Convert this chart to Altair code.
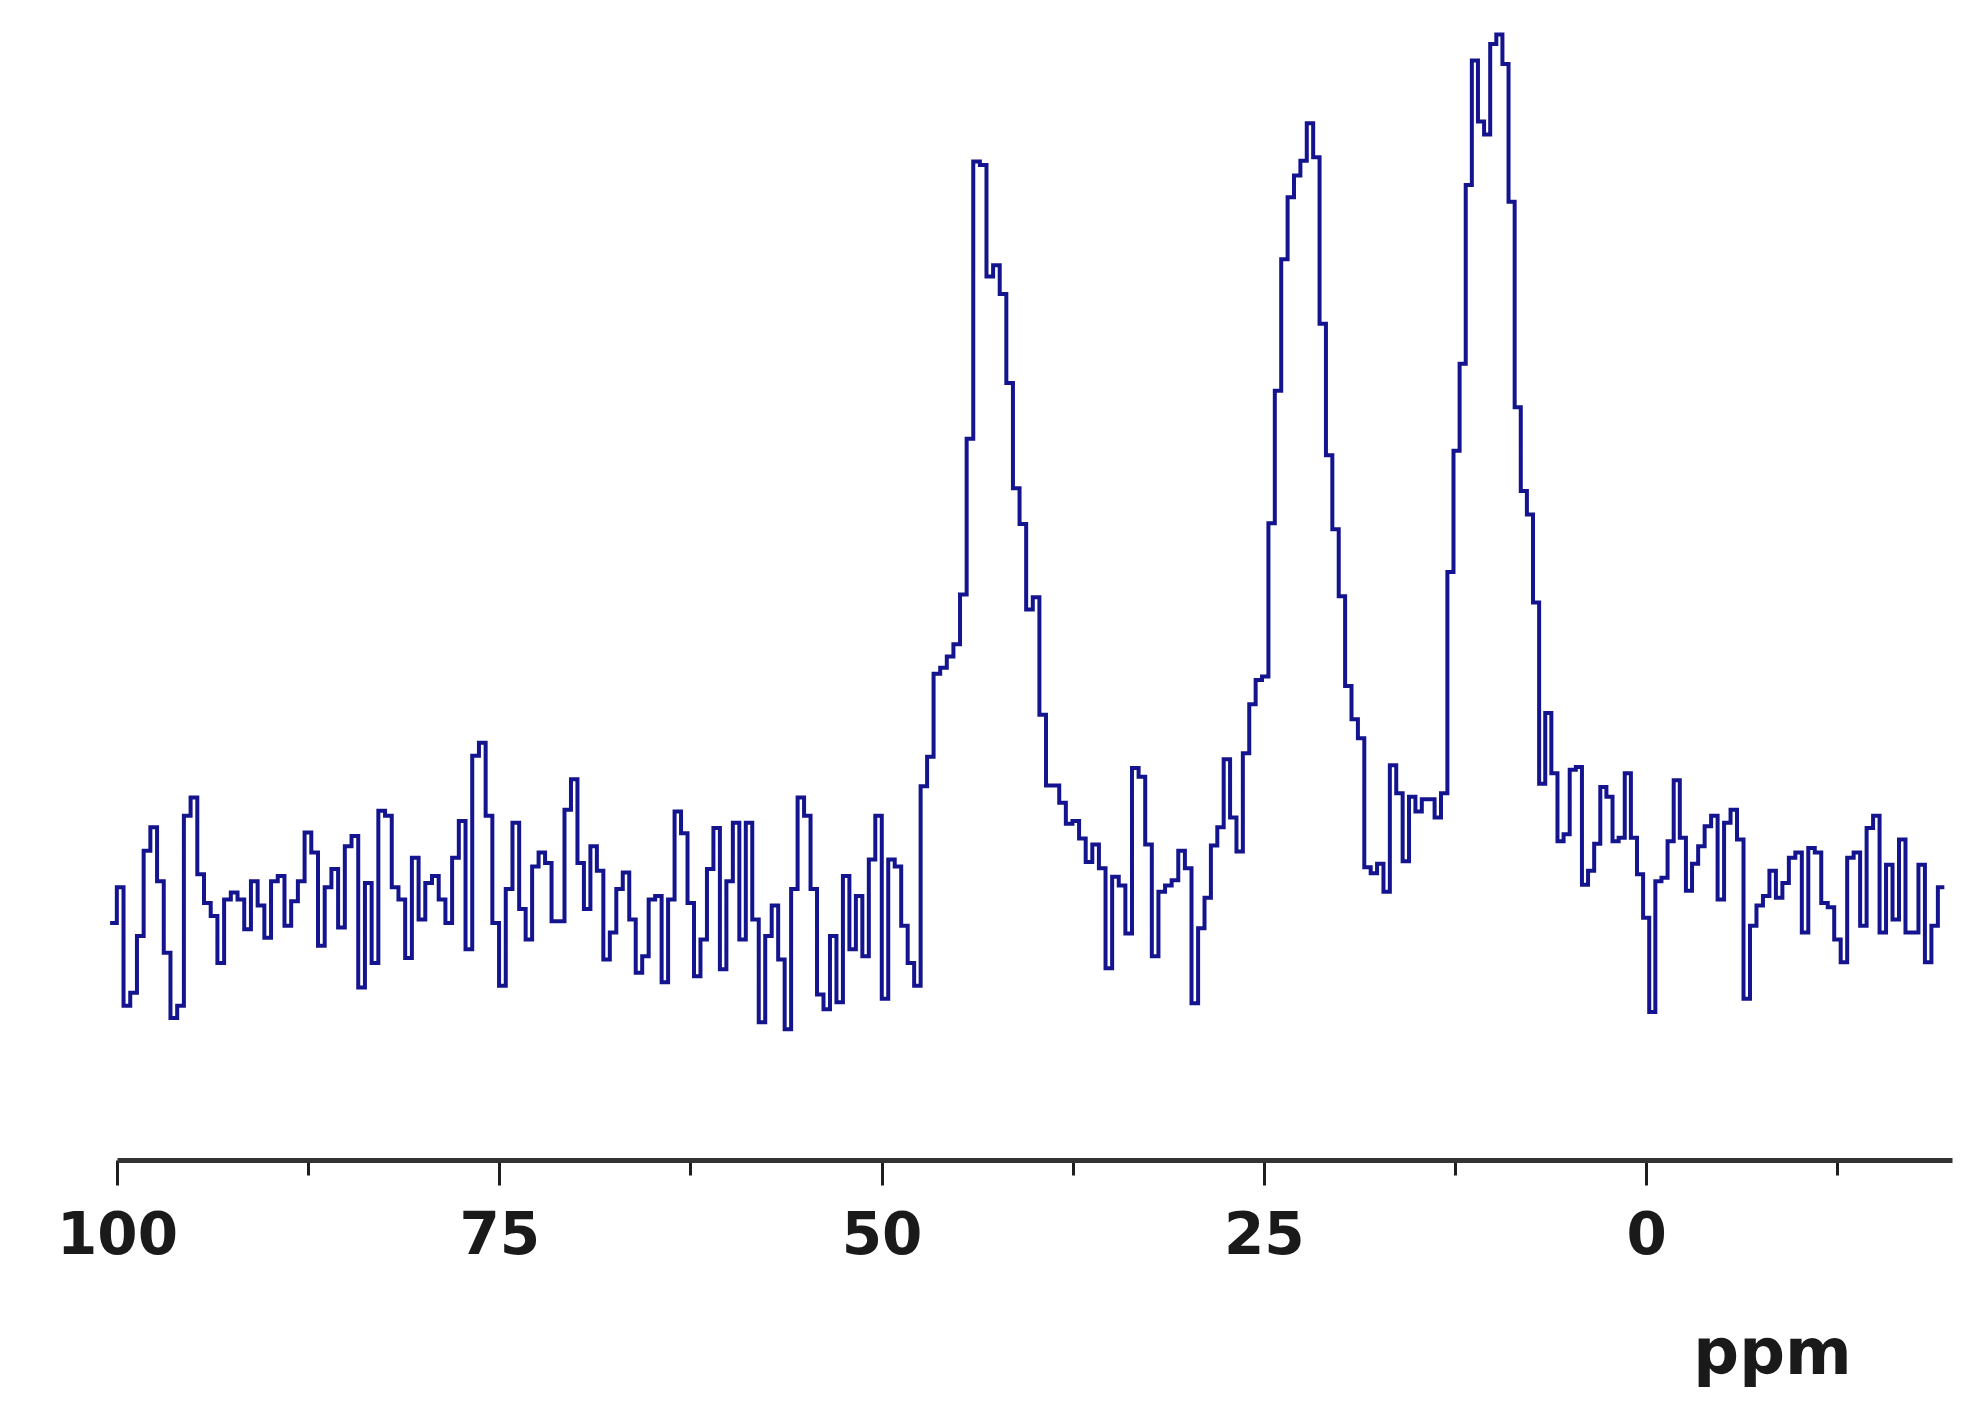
import pandas as pd
import altair as alt

# chemical shift (ppm) at the segment boundaries
seg_edges = [100.45, 73.7, 46.6, 29.3, 13.0, -3.4, -19.5]

# intensities (a.u., baseline = 0, tallest peak = 100), one list per segment
seg_a = [-1.8, 2.3, -11.3, -9.8, -3.3, 6.5, 9.2, 3.0, -5.2, -12.7, -11.3, 10.5, 12.6,
         3.8, 0.5, -1.0, -6.4, 0.9, 1.7, 0.9, -2.5, 3.0, 0.2, -3.5, 3.0, 3.6, -2.1,
         0.7, 3.0, 8.6, 6.3, -4.4, 2.3, 4.4, -2.3, 7.0, 8.2, -9.2, 2.8, -6.4, 11.1,
         10.5, 2.3, 0.9, -5.8, 5.7, -1.4, 2.8, 3.6, 0.9, -1.8, 5.7, 9.9, -4.8, 17.4,
         18.9, 10.5, -1.8, -9.0, 2.1, 9.7]
seg_b = [-0.2, -3.7, 4.7, 6.3, 5.1, -1.6, -1.6, 11.2, 14.7, 5.1, -0.2, 7.0, 4.2,
         -6.0, -2.9, 2.1, 4.0, -1.4, -7.5, -5.6, 0.9, 1.3, -8.6, 0.9, 11.0, 8.5, 0.5,
         -7.9, -3.7, 4.4, 9.1, -7.1, 3.0, 9.7, -3.7, 9.7, -1.4, -13.2, -3.3, 0.2,
         -6.0, -14.0, 2.1, 12.6, 10.5, 2.1, -10.0, -11.7, -3.3, -10.9, 3.6, -4.8,
         1.3, -5.6, 5.5, 10.5, -10.5, 5.5, 4.7, -2.1, -6.4, -9.0, 13.9, 17.3]
seg_c = [26.8, 27.5, 28.8, 30.2, 35.9, 53.8, 85.6, 85.2, 72.4, 73.7, 70.4, 60.2,
         48.1, 44.0, 34.2, 35.6, 22.1, 14.0, 14.0, 12.0, 9.6, 9.9, 7.9, 5.2, 7.2,
         4.5, -7.0, 3.5, 2.5, -3.0, 16.0, 15.0, 7.2, -5.6, 1.8, 2.5, 3.1, 6.5, 4.5,
         -11.0]
seg_d = [-2.4, 1.1, 7.1, 9.2, 17.0, 10.3, 6.4, 17.7, 23.3, 26.1, 26.5, 44.1, 59.3,
         74.4, 81.5, 84.0, 85.7, 90.0, 86.1, 67.0, 51.9, 43.4, 35.7, 25.4, 21.6,
         19.4, 4.6, 3.9, 5.0, 1.8, 16.3, 13.1, 5.3, 12.7, 11.0, 12.4, 12.4, 10.3,
         13.1]
seg_e = [38.5, 52.4, 62.4, 82.9, 97.2, 90.2, 88.7, 99.1, 100.2, 96.8, 81.0, 57.4,
         47.8, 45.1, 35.0, 14.2, 22.3, 15.4, 7.6, 8.4, 15.8, 16.1, 2.6, 4.2, 7.3,
         13.8, 12.7, 7.6, 8.0, 15.4, 8.0, 3.8, -1.2, -12.0, 3.0, 3.4, 7.6, 14.6, 8.0,
         1.9, 5.0]
seg_f = [7.0, 9.3, 10.5, 0.9, 9.7, 11.2, 7.8, -10.5, -2.1, 0.2, 1.3, 4.2, 1.1, 2.8,
         5.7, 6.3, -2.9, 6.8, 6.3, 0.5, 0.0, -3.7, -6.3, 5.7, 6.3, -2.1, 9.1, 10.5,
         -2.9, 4.9, -1.4, 7.8, -2.9, -2.9, 4.9, -6.3, -2.1, 2.3]

tick_values = [100, 87.5, 75, 62.5, 50, 37.5, 25, 12.5, 0, -12.5]

rows = []
for k, seg in enumerate([seg_a, seg_b, seg_c, seg_d, seg_e, seg_f]):
    start, end = seg_edges[k], seg_edges[k + 1]
    for i, v in enumerate(seg):
        rows.append({"ppm": start + (end - start) * i / len(seg), "I": v})
rows.append({"ppm": seg_edges[-1], "I": seg_f[-1]})
df = pd.DataFrame(rows)
df["idx"] = range(len(df))

chart = alt.Chart(df).mark_line(
    interpolate="step-after", color="#14148f", strokeWidth=4
).encode(
    x=alt.X(
        "ppm:Q",
        scale=alt.Scale(domain=[-20, 100], reverse=True, nice=False, zero=False),
        axis=alt.Axis(
            values=tick_values,
            labelExpr="datum.value % 25 === 0 ? datum.label : ''",
            tickSize={"condition": {"test": "datum.value % 25 === 0", "value": 25}, "value": 15},
            tickWidth=3,
            tickColor="#1e1e1e",
            domainWidth=5,
            domainColor="#333333",
            grid=False,
            labelFont="DejaVu Sans",
            labelFontWeight="bold",
            labelFontSize=58,
            labelColor="#1a1a1a",
            labelPadding=22,
            labelFlush=False,
            labelOverlap=False,
            title="ppm",
            titleFont="DejaVu Sans",
            titleFontWeight="bold",
            titleFontSize=64,
            titleColor="#1a1a1a",
            titleX=1655,
            titleY=213,
            titleAlign="center",
            titleBaseline="alphabetic",
        ),
    ),
    y=alt.Y("I:Q", scale=alt.Scale(domain=[-29, 103], nice=False, zero=False), axis=None),
    order="idx:Q",
).properties(
    width=1835,
    height=1150,
    autosize=alt.AutoSizeParams(type="none"),
    padding={"left": 109, "top": 2, "right": 20, "bottom": 250},
).configure_view(strokeWidth=0)

chart.save("out.html", embed_options={"renderer": "svg", "actions": False})
